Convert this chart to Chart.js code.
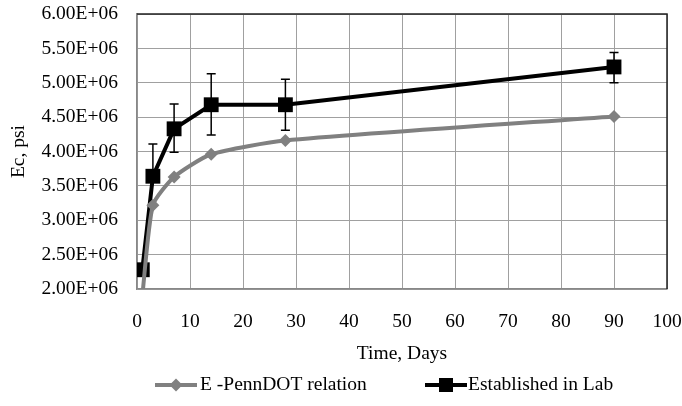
<!DOCTYPE html>
<html><head><meta charset="utf-8">
<script src="https://cdn.jsdelivr.net/npm/chart.js@4/dist/chart.umd.min.js"></script>
<style>html,body{margin:0;padding:0;background:#fff}#wrap{width:682px;height:406px}</style>
</head><body><div id="wrap"><canvas id="c" width="682" height="406"></canvas></div>
<script>
const days = [1, 3, 7, 14, 28, 90];
const pennDOT = [1.9e6, 3.22e6, 3.63e6, 3.96e6, 4.16e6, 4.51e6];
const lab = [2.28e6, 3.64e6, 4.33e6, 4.68e6, 4.68e6, 5.23e6];
const labErrPlus = [0, 0.47e6, 0.36e6, 0.45e6, 0.37e6, 0.21e6];
const labErrMinus = [0, 0.05e6, 0.34e6, 0.44e6, 0.37e6, 0.23e6];
const seriesNames = ['E -PennDOT relation', 'Established in Lab'];
const xTitle = 'Time, Days';
const yTitle = 'Ec, psi';

const FONT = 'Liberation Serif';
const FS = 19.5;
const GRAY = '#808080';

function fmtE(v) {
  const e = Math.floor(Math.log10(v) + 1e-9);
  const m = (v / Math.pow(10, e)).toFixed(2);
  return m + 'E+' + String(e).padStart(2, '0');
}

const errorBars = {
  id: 'errorBars',
  beforeDatasetsDraw(chart) {
    const ctx = chart.ctx, xs = chart.scales.x, ys = chart.scales.y;
    ctx.save();
    ctx.strokeStyle = '#000';
    ctx.lineWidth = 1.5;
    days.forEach((d, i) => {
      if (!labErrPlus[i] && !labErrMinus[i]) return;
      const x = xs.getPixelForValue(d);
      const yt = ys.getPixelForValue(lab[i] + labErrPlus[i]);
      const yb = ys.getPixelForValue(lab[i] - labErrMinus[i]);
      ctx.beginPath();
      ctx.moveTo(x, yt); ctx.lineTo(x, yb);
      ctx.moveTo(x - 4.5, yt); ctx.lineTo(x + 4.5, yt);
      ctx.moveTo(x - 4.5, yb); ctx.lineTo(x + 4.5, yb);
      ctx.stroke();
    });
    ctx.restore();
  }
};

const frame = {
  id: 'frame',
  afterDraw(chart) {
    const ctx = chart.ctx, a = chart.chartArea;
    ctx.save();
    ctx.strokeStyle = '#222';
    ctx.lineWidth = 1.5;
    ctx.beginPath();
    ctx.moveTo(a.left, a.top); ctx.lineTo(a.right, a.top); ctx.lineTo(a.right, a.bottom);
    ctx.stroke();
    // legend
    const y = 385;
    ctx.font = FS + 'px "' + FONT + '"';
    ctx.textBaseline = 'middle';
    ctx.textAlign = 'left';
    ctx.fillStyle = '#000';
    ctx.strokeStyle = GRAY; ctx.lineWidth = 4;
    ctx.beginPath(); ctx.moveTo(155, y); ctx.lineTo(197, y); ctx.stroke();
    ctx.fillStyle = GRAY;
    ctx.beginPath(); ctx.moveTo(176, y - 6.5); ctx.lineTo(182.5, y); ctx.lineTo(176, y + 6.5); ctx.lineTo(169.5, y); ctx.closePath(); ctx.fill();
    ctx.fillStyle = '#000';
    ctx.fillText(seriesNames[0], 200, y);
    ctx.strokeStyle = '#000'; ctx.lineWidth = 4;
    ctx.beginPath(); ctx.moveTo(425, y); ctx.lineTo(467, y); ctx.stroke();
    ctx.fillRect(446 - 7, y - 7, 14, 14);
    ctx.fillText(seriesNames[1], 468, y);
    ctx.restore();
  }
};

new Chart(document.getElementById('c'), {
  type: 'scatter',
  data: {
    datasets: [
      {
        label: seriesNames[0],
        data: days.map((d, i) => ({x: d, y: pennDOT[i]})),
        showLine: true,
        borderColor: GRAY,
        backgroundColor: GRAY,
        borderWidth: 4,
        tension: 0.2,
        pointStyle: 'rectRot',
        pointRadius: 6.5,
        pointBorderWidth: 0,
        clip: 0
      },
      {
        label: seriesNames[1],
        data: days.map((d, i) => ({x: d, y: lab[i]})),
        showLine: true,
        borderColor: '#000',
        backgroundColor: '#000',
        borderWidth: 4,
        tension: 0,
        pointStyle: 'rect',
        pointRadius: 10.5,
        pointBorderWidth: 0,
        clip: 0
      }
    ]
  },
  options: {
    responsive: false,
    animation: false,
    devicePixelRatio: 1,
    layout: {padding: {left: 0, right: 15, top: 14, bottom: 0}},
    plugins: {legend: {display: false}, tooltip: {enabled: false}},
    scales: {
      x: {
        type: 'linear', min: 0, max: 100,
        afterFit(s) { s.height = 117; s.paddingLeft = 0; s.paddingRight = 0; },
        ticks: {stepSize: 10, color: '#000', font: {family: FONT, size: FS}, padding: 21},
        grid: {color: '#a0a0a0', lineWidth: 1, drawTicks: false},
        border: {color: '#888', width: 1.5},
        title: {display: true, text: xTitle, color: '#000', font: {family: FONT, size: FS}, padding: {top: 0, bottom: 40}}
      },
      y: {
        min: 2e6, max: 6e6,
        afterFit(s) { s.width = 137; s.paddingTop = 0; s.paddingBottom = 0; },
        ticks: {stepSize: 5e5, color: '#000', font: {family: FONT, size: FS}, padding: 19, callback: v => fmtE(v)},
        grid: {color: '#a0a0a0', lineWidth: 1, drawTicks: false},
        border: {color: '#888', width: 1.5},
        title: {display: true, text: yTitle, color: '#000', font: {family: FONT, size: FS}, padding: {top: 7, bottom: 0}}
      }
    }
  },
  plugins: [errorBars, frame]
});
</script>
</body></html>
